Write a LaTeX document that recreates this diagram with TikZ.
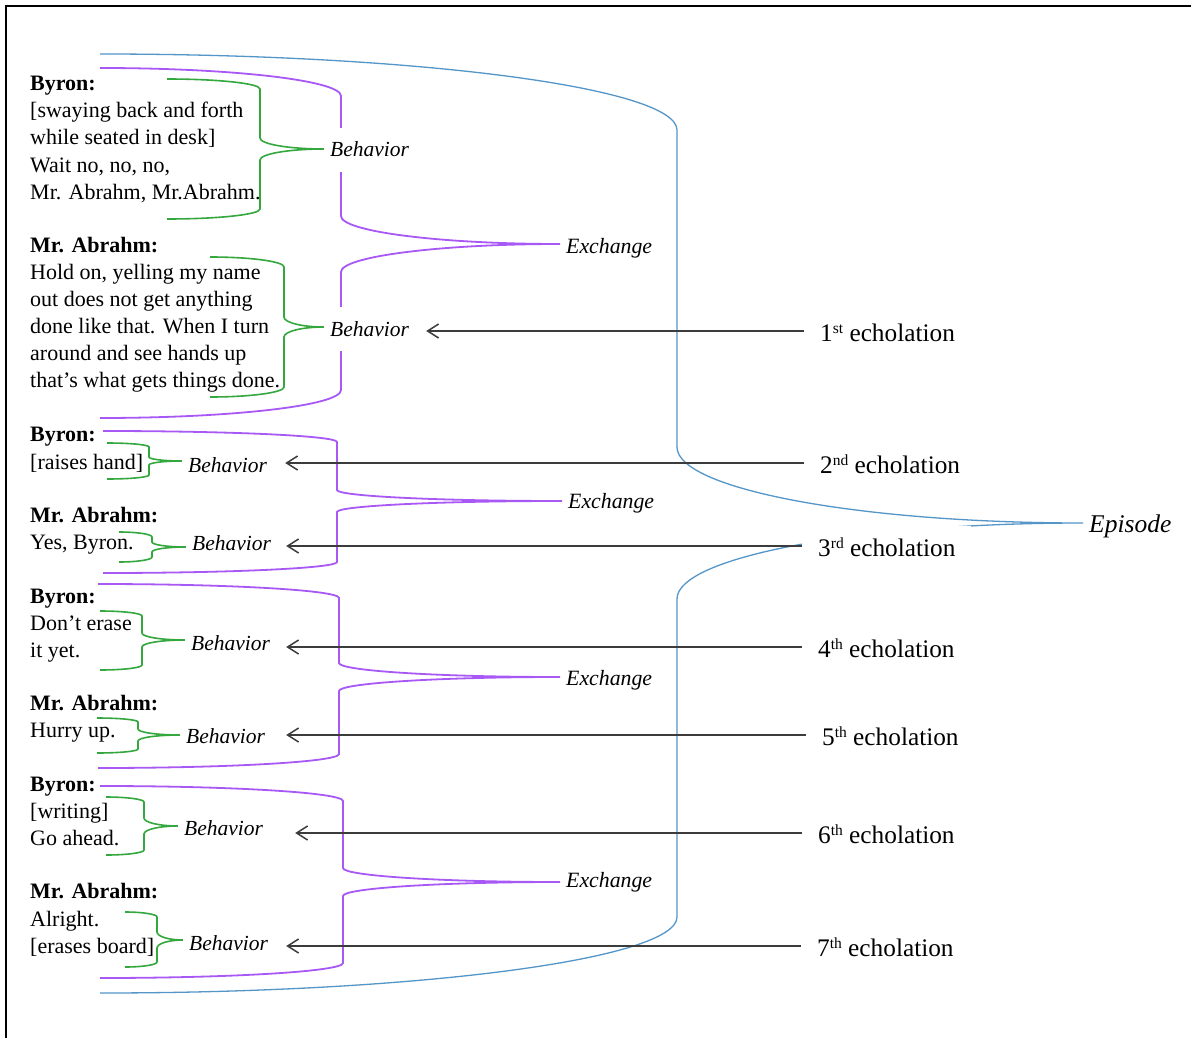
\documentclass[tikz,border=0pt]{standalone}
\usepackage{fontspec}
\setmainfont{Liberation Serif}
\usetikzlibrary{arrows.meta}

\definecolor{exchcol}{RGB}{168,88,245}
\definecolor{behcol}{RGB}{52,168,62}
\definecolor{epicol}{RGB}{84,150,200}
\definecolor{arrcol}{RGB}{60,60,60}

% Bezier constant for a quarter ellipse
\newcommand\kk{0.5523}
% Right curly brace: #1 left x, #2 top y, #3 bottom y, #4 spine x,
% #5 tip x, #6 tip y, #7 end-corner radius, #8 tip-corner radius
\newcommand\bracepath[8]{%
  (#1,#2) .. controls ({#1+\kk*(#4-#1)},#2) and (#4,{#2+#7-\kk*#7}) .. (#4,{#2+#7})
  -- (#4,{#6-#8})
  .. controls (#4,{#6-#8+\kk*#8}) and ({#5-\kk*(#5-#4)},#6) .. (#5,#6)
  .. controls ({#5-\kk*(#5-#4)},#6) and (#4,{#6+#8-\kk*#8}) .. (#4,{#6+#8})
  -- (#4,{#3-#7})
  .. controls (#4,{#3-#7+\kk*#7}) and ({#1+\kk*(#4-#1)},#3) .. (#1,#3)}
\newcommand\ordsup[1]{\raisebox{8pt}{\fontsize{15.5}{15.5}\selectfont #1}}

\begin{document}
\begin{tikzpicture}[x=1pt,y=-1pt,
  txt/.style={anchor=base west, inner sep=0pt, font=\fontsize{22}{27}\selectfont},
  who/.style={txt, font=\fontsize{22}{27}\selectfont\bfseries},
  beh/.style={anchor=base west, fill=white, inner xsep=6pt, inner ysep=12pt,
    text height=17pt, text depth=3pt, font=\fontsize{21.5}{27}\selectfont\itshape},
  exch/.style={anchor=base west, inner xsep=6pt, inner ysep=2pt,
    font=\fontsize{21.8}{27}\selectfont\itshape},
  epi/.style={anchor=base west, inner xsep=6pt, inner ysep=2pt,
    font=\fontsize{25.5}{30}\selectfont\itshape},
  echo/.style={anchor=west, fill=white, inner xsep=16pt, inner ysep=6pt,
    text height=25pt, text depth=4pt, font=\fontsize{25.3}{29}\selectfont},
  epibrace/.style={draw=epicol, line width=1.3pt},
  exbrace/.style={draw=exchcol, line width=1.8pt},
  bhbrace/.style={draw=behcol, line width=1.6pt},
  arr/.style={draw=arrcol, line width=1.6pt, -{Straight Barb[length=11pt,width=14pt,line width=1.5pt]}}
]
\useasboundingbox (0,0) rectangle (1191,1038);
\fill[white] (0,0) rectangle (1191,1038);

% frame
\draw[line width=2.4pt] (6,1038) -- (6,6) -- (1191,6);

% episode brace
\draw[epibrace] \bracepath{100}{54}{993}{677}{1083}{523}{76}{76};

% exchange braces
\draw[exbrace] \bracepath{100}{68}{418}{341}{560}{244}{28}{28};
\draw[exbrace] \bracepath{103}{431}{573}{337}{562}{501}{11}{11};
\draw[exbrace] \bracepath{98}{584}{768}{339}{560}{677}{14}{14};
\draw[exbrace] \bracepath{100}{786}{978}{343}{560}{882}{15}{14};

% behavior braces
\draw[bhbrace] \bracepath{167}{79}{219}{260}{324}{149}{10}{11};
\draw[bhbrace] \bracepath{210}{257}{397}{284}{324}{327}{10}{10};
\draw[bhbrace] \bracepath{107}{443}{479}{149}{182}{461}{4}{4};
\draw[bhbrace] \bracepath{119}{532}{562}{152}{186}{547}{5}{5};
\draw[bhbrace] \bracepath{100}{611}{670}{142}{185}{640}{5}{7};
\draw[bhbrace] \bracepath{97}{718}{753}{138}{180}{735}{4}{6};
\draw[bhbrace] \bracepath{106}{797}{855}{144}{178}{826}{5}{8};
\draw[bhbrace] \bracepath{125}{912}{967}{157}{183}{940}{5}{8};

% dialogue
\node[who] (t1a) at (30,91) {Byron:};
\node[txt] (t1b) at (30,118) {[swaying back and forth};
\node[txt] (t1c) at (30,145) {while seated in desk]};
\node[txt] (t1d) at (30,172) {Wait no, no, no,};
\node[txt] (t1e) at (30,199) {Mr. Abrahm, Mr.Abrahm.};
\node[who] (t2a) at (30,252) {Mr. Abrahm:};
\node[txt] (t2b) at (30,279) {Hold on, yelling my name};
\node[txt] (t2c) at (30,306) {out does not get anything};
\node[txt] (t2d) at (30,333) {done like that. When I turn};
\node[txt] (t2e) at (30,360) {around and see hands up};
\node[txt] (t2f) at (30,387) {that’s what gets things done.};
\node[who] (t3a) at (30,441) {Byron:};
\node[txt] (t3b) at (30,469) {[raises hand]};
\node[who] (t4a) at (30,522) {Mr. Abrahm:};
\node[txt] (t4b) at (30,549) {Yes, Byron.};
\node[who] (t5a) at (30,603) {Byron:};
\node[txt] (t5b) at (30,630) {Don’t erase};
\node[txt] (t5c) at (30,657) {it yet.};
\node[who] (t6a) at (30,710) {Mr. Abrahm:};
\node[txt] (t6b) at (30,737) {Hurry up.};
\node[who] (t7a) at (30,791) {Byron:};
\node[txt] (t7b) at (30,818) {[writing]};
\node[txt] (t7c) at (30,845) {Go ahead.};
\node[who] (t8a) at (30,898) {Mr. Abrahm:};
\node[txt] (t8b) at (30,926) {Alright.};
\node[txt] (t8c) at (30,953) {[erases board]};

% behavior labels
\node[beh] (b1) at (324,157) {Behavior};
\node[beh] (b2) at (324,336) {Behavior};
\node[beh] (b3) at (182,472) {Behavior};
\node[beh] (b4) at (186,550) {Behavior};
\node[beh] (b5) at (185,650) {Behavior};
\node[beh] (b6) at (180,743) {Behavior};
\node[beh] (b7) at (178,835) {Behavior};
\node[beh] (b8) at (183,950) {Behavior};

% exchange labels
\node[exch] (x1) at (560,253) {Exchange};
\node[exch] (x2) at (562,508) {Exchange};
\node[exch] (x3) at (560,685) {Exchange};
\node[exch] (x4) at (560,887) {Exchange};

% episode label
\node[epi] (ep) at (1083,532) {Episode};

% echolation labels
\node[echo] (e1) at (804,331) {1\ordsup{st} echolation};
\node[echo] (e2) at (804,463) {2\ordsup{nd} echolation};
\node[echo] (e3) at (802,546) {3\ordsup{rd} echolation};
\node[echo] (e4) at (802,647) {4\ordsup{th} echolation};
\node[echo] (e5) at (806,735) {5\ordsup{th} echolation};
\node[echo] (e6) at (802,833) {6\ordsup{th} echolation};
\node[echo] (e7) at (801,946) {7\ordsup{th} echolation};

% echolation pointers
\draw[arr, shorten >=11pt] (e1.west) -- (e1.west -| b2.east);
\draw[arr, shorten >=12pt] (e2.west) -- (e2.west -| b3.east);
\draw[arr, shorten >=9pt] (e3.west) -- (e3.west -| b4.east);
\draw[arr, shorten >=10pt] (e4.west) -- (e4.west -| b5.east);
\draw[arr, shorten >=15pt] (e5.west) -- (e5.west -| b6.east);
\draw[arr, shorten >=26pt] (e6.west) -- (e6.west -| b7.east);
\draw[arr, shorten >=12pt] (e7.west) -- (e7.west -| b8.east);
\end{tikzpicture}
\end{document}
